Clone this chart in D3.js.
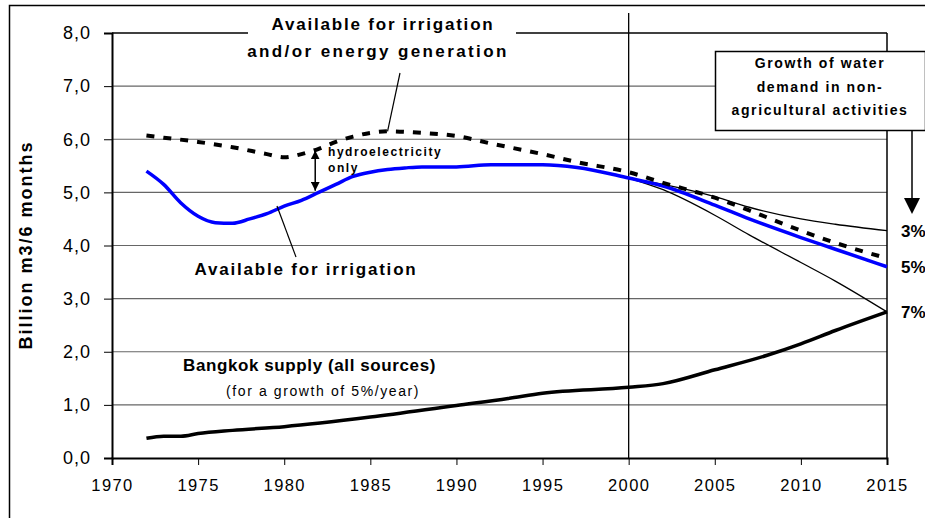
<!DOCTYPE html>
<html>
<head>
<meta charset="utf-8">
<script src="https://cdn.jsdelivr.net/npm/d3@7"></script>
<style>
  body { margin: 0; background: #fff; }
  svg { display: block; font-family: "Liberation Sans", Arial, sans-serif; }
  .tick text { fill: #000; }
</style>
</head>
<body>
<div id="chart"></div>
<script>
// years and values
const potentialYears = [1972, 1973, 1975, 1977, 1979, 1980, 1981, 1982, 1983, 1984, 1985, 1986, 1988, 1990, 1992, 1995, 1997, 2000, 2002, 2005, 2007, 2010, 2012, 2015];
const potentialValues = [6.07, 6.03, 5.95, 5.85, 5.72, 5.66, 5.72, 5.82, 5.95, 6.05, 6.12, 6.15, 6.12, 6.06, 5.92, 5.72, 5.57, 5.38, 5.18, 4.9, 4.66, 4.28, 4.05, 3.76];

const irrigationYears = [1972, 1973, 1974, 1975, 1976, 1977, 1978, 1979, 1980, 1981, 1982, 1983, 1984, 1985, 1986, 1987, 1988, 1990, 1992, 1995, 1997, 2000, 2002, 2005, 2007, 2010, 2012, 2015];
const irrigationValues = [5.4, 5.15, 4.8, 4.55, 4.43, 4.42, 4.5, 4.6, 4.74, 4.85, 5.0, 5.15, 5.3, 5.38, 5.43, 5.46, 5.48, 5.48, 5.52, 5.52, 5.47, 5.27, 5.12, 4.76, 4.5, 4.15, 3.93, 3.6];

const growthYears = [2000, 2002, 2005, 2007, 2010, 2012, 2015];
const growth3 = [5.27, 5.15, 4.92, 4.72, 4.5, 4.4, 4.28];
const growth7 = [5.27, 5.05, 4.57, 4.2, 3.68, 3.33, 2.75];

const bangkokYears = [1972, 1973, 1974, 1975, 1977, 1980, 1985, 1990, 1993, 1995, 2000, 2002, 2005, 2008, 2010, 2012, 2015];
const bangkokValues = [0.37, 0.41, 0.41, 0.46, 0.52, 0.59, 0.77, 0.99, 1.12, 1.22, 1.33, 1.4, 1.66, 1.93, 2.15, 2.4, 2.75];

const yTicks = [0, 1, 2, 3, 4, 5, 6, 7, 8];
const xTicks = [1970, 1975, 1980, 1985, 1990, 1995, 2000, 2005, 2010, 2015];
const growthLabels = ["3%", "5%", "7%"];

const width = 925, height = 518;
const plot = { left: 112, right: 887, top: 33, bottom: 458 };

const svg = d3.select("#chart").append("svg")
    .attr("width", width)
    .attr("height", height);

const x = d3.scaleLinear().domain([1970, 2015]).range([plot.left, plot.right]);
const y = d3.scaleLinear().domain([0, 8]).range([plot.bottom, plot.top]);

// outer frame
svg.append("rect")
    .attr("x", 9.5).attr("y", 5.5)
    .attr("width", 930).attr("height", 530)
    .attr("fill", "none").attr("stroke", "#000").attr("stroke-width", 1.5);

// gridlines
svg.append("g")
    .selectAll("line")
    .data(yTicks.filter(d => d > 0))
    .enter().append("line")
    .attr("x1", plot.left).attr("x2", plot.right)
    .attr("y1", d => y(d)).attr("y2", d => y(d))
    .attr("stroke", d => d === 8 ? "#000" : "#666")
    .attr("stroke-width", d => d === 8 ? 1.5 : 1.2);

// right border of plot area
svg.append("line")
    .attr("x1", plot.right).attr("x2", plot.right)
    .attr("y1", plot.top).attr("y2", plot.bottom)
    .attr("stroke", "#000").attr("stroke-width", 1.5);

// vertical line at 2000
svg.append("line")
    .attr("x1", x(2000)).attr("x2", x(2000))
    .attr("y1", 13).attr("y2", plot.bottom)
    .attr("stroke", "#000").attr("stroke-width", 1.3);

// axes
const yAxis = svg.append("g")
    .attr("transform", "translate(" + plot.left + ",0)")
    .call(d3.axisLeft(y).tickValues(yTicks).tickSize(8).tickPadding(13)
        .tickFormat(d => d3.format(".1f")(d).replace(".", ",")));
yAxis.select(".domain").attr("stroke-width", 2);
yAxis.selectAll("text").style("font-size", "18px").style("letter-spacing", "1px");

const xAxis = svg.append("g")
    .attr("transform", "translate(0," + plot.bottom + ")")
    .call(d3.axisBottom(x).tickValues(xTicks).tickSize(7).tickPadding(14)
        .tickFormat(d3.format("d")));
xAxis.select(".domain").attr("stroke-width", 2);
xAxis.selectAll("text").style("font-size", "16.5px").style("letter-spacing", "1.4px");

svg.append("text")
    .attr("transform", "translate(32,245) rotate(-90)")
    .attr("text-anchor", "middle")
    .style("font-size", "18px").style("font-weight", "bold").style("letter-spacing", "2px")
    .text("Billion m3/6 months");

const line = d3.line().curve(d3.curveMonotoneX);
const pts = (xs, vs) => xs.map((yr, i) => [x(yr), y(vs[i])]);

// 3% and 7% thin lines
svg.append("path")
    .attr("d", line(pts(growthYears, growth3)))
    .attr("fill", "none").attr("stroke", "#000").attr("stroke-width", 1.3);
svg.append("path")
    .attr("d", line(pts(growthYears, growth7)))
    .attr("fill", "none").attr("stroke", "#000").attr("stroke-width", 1.3);

// Bangkok supply
svg.append("path")
    .attr("d", line(pts(bangkokYears, bangkokValues)))
    .attr("fill", "none").attr("stroke", "#000").attr("stroke-width", 3.5);

// irrigation (blue)
svg.append("path")
    .attr("d", line(pts(irrigationYears, irrigationValues)))
    .attr("fill", "none").attr("stroke", "#0000ff").attr("stroke-width", 3.5);

// irrigation and/or energy (dashed)
svg.append("path")
    .attr("d", line(pts(potentialYears, potentialValues)))
    .attr("fill", "none").attr("stroke", "#000").attr("stroke-width", 4)
    .attr("stroke-dasharray", "8,9");

// title annotation box
svg.append("rect")
    .attr("x", 248).attr("y", 10).attr("width", 268).attr("height", 60)
    .attr("fill", "#fff");
const topNote = svg.append("text")
    .attr("text-anchor", "middle")
    .style("font-size", "17px").style("font-weight", "bold");
topNote.append("tspan").attr("x", 383).attr("y", 30).style("letter-spacing", "1.8px")
    .text("Available for irrigation");
topNote.append("tspan").attr("x", 378).attr("y", 57).style("letter-spacing", "2.4px")
    .text("and/or energy generation");
svg.append("line")
    .attr("x1", 400).attr("y1", 73).attr("x2", x(1986)).attr("y2", y(6.15))
    .attr("stroke", "#000").attr("stroke-width", 1.2);

// hydroelectricity arrow
svg.append("defs").append("marker")
    .attr("id", "ah").attr("viewBox", "0 0 10 10")
    .attr("refX", 10).attr("refY", 5)
    .attr("markerWidth", 9).attr("markerHeight", 9)
    .attr("markerUnits", "userSpaceOnUse")
    .attr("orient", "auto-start-reverse")
    .append("path").attr("d", "M0,0L10,5L0,10Z").attr("fill", "#000");
svg.append("line")
    .attr("x1", x(1981.8)).attr("x2", x(1981.8))
    .attr("y1", y(5.79)).attr("y2", y(5.03))
    .attr("stroke", "#000").attr("stroke-width", 1.5)
    .attr("marker-start", "url(#ah)").attr("marker-end", "url(#ah)");
const hydro = svg.append("text")
    .style("font-size", "12px").style("font-weight", "bold").style("letter-spacing", "1.55px");
hydro.append("tspan").attr("x", 328).attr("y", 156).text("hydroelectricity");
hydro.append("tspan").attr("x", 328).attr("y", 172).text("only");

// available for irrigation label
svg.append("line")
    .attr("x1", 277).attr("y1", 206).attr("x2", 296).attr("y2", 257)
    .attr("stroke", "#000").attr("stroke-width", 1.2);
svg.append("text")
    .attr("x", 306).attr("y", 275).attr("text-anchor", "middle")
    .style("font-size", "17px").style("font-weight", "bold").style("letter-spacing", "1.8px")
    .text("Available for irrigation");

// Bangkok label
svg.append("text")
    .attr("x", 183).attr("y", 371)
    .style("font-size", "17px").style("font-weight", "bold").style("letter-spacing", "0.6px")
    .text("Bangkok supply (all sources)");
svg.append("text")
    .attr("x", 226).attr("y", 396)
    .style("font-size", "14px").style("letter-spacing", "1.6px")
    .text("(for a growth of 5%/year)");

// growth legend box
svg.append("line")
    .attr("x1", 912).attr("x2", 912).attr("y1", 130).attr("y2", 200)
    .attr("stroke", "#000").attr("stroke-width", 1.5);
svg.append("path")
    .attr("d", "M904,198L920,198L912,214Z").attr("fill", "#000");
svg.append("rect")
    .attr("x", 715.5).attr("y", 51.5).attr("width", 210).attr("height", 79)
    .attr("fill", "#fff").attr("stroke", "#000").attr("stroke-width", 1.5);
const box = svg.append("text")
    .attr("text-anchor", "middle")
    .style("font-size", "14px").style("font-weight", "bold").style("letter-spacing", "1.6px");
box.append("tspan").attr("x", 820).attr("y", 68).text("Growth of water");
box.append("tspan").attr("x", 820).attr("y", 92).text("demand in non-");
box.append("tspan").attr("x", 820).attr("y", 115).text("agricultural activities");

// 3% / 5% / 7% labels at the line ends
const endValues = [growth3[growth3.length - 1], irrigationValues[irrigationValues.length - 1], growth7[growth7.length - 1]];
svg.append("g")
    .selectAll("text")
    .data(growthLabels)
    .enter().append("text")
    .attr("x", 901)
    .attr("y", (d, i) => y(endValues[i]) + 6)
    .style("font-size", "17px").style("font-weight", "bold")
    .text(d => d);
</script>
</body>
</html>
